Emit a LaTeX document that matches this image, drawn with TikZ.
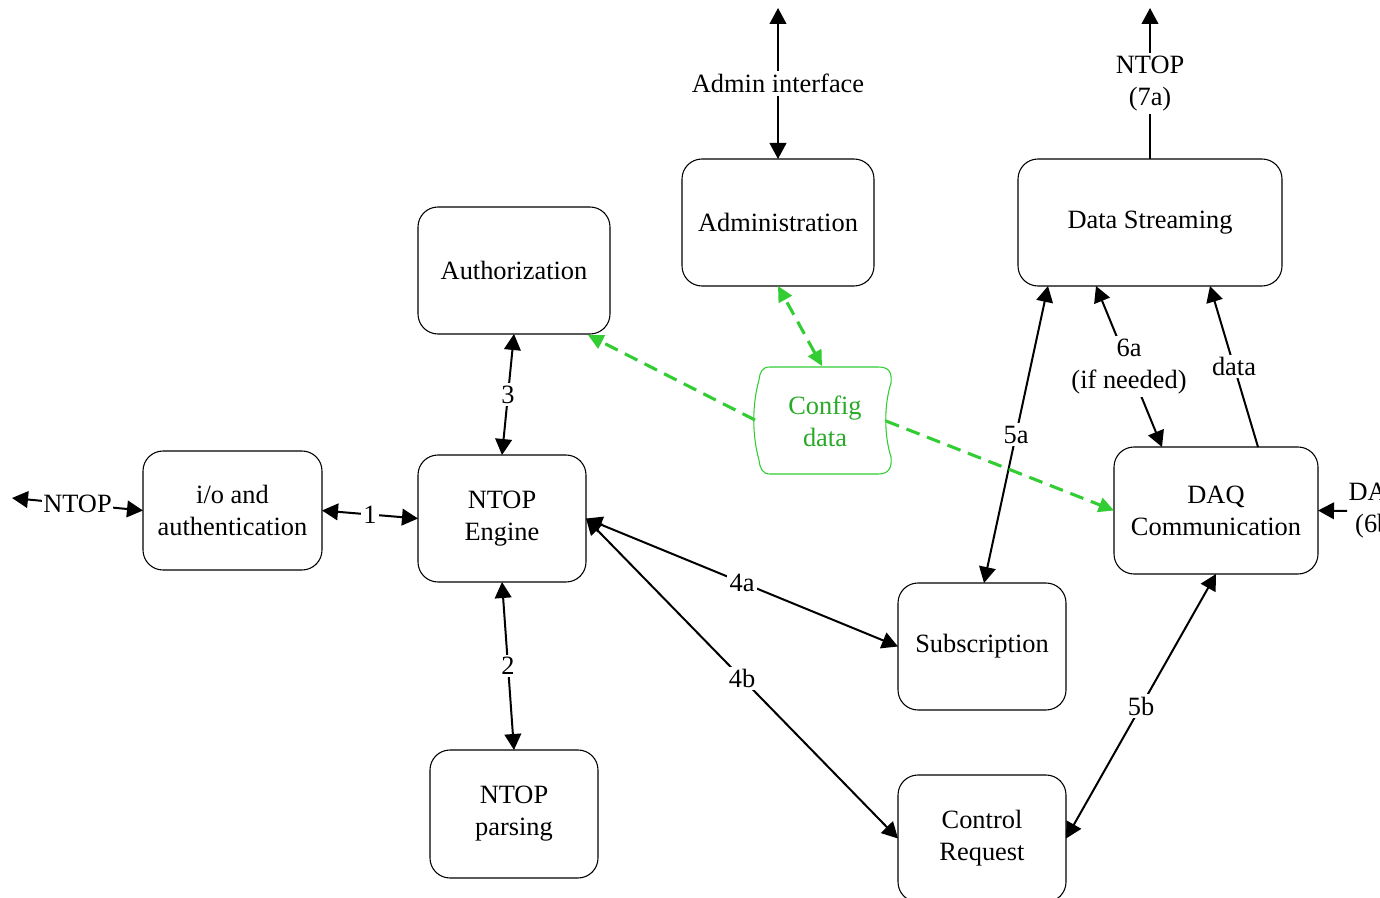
\documentclass[tikz,border=0pt]{standalone}
\usepackage{fontspec}
\setmainfont{Liberation Serif}
\usetikzlibrary{arrows.meta,calc}
\definecolor{cfggreen}{RGB}{50,205,50}
\definecolor{cfgtext}{RGB}{40,170,40}
\tikzset{gtip/.tip={Triangle[length=11.5pt,width=11pt]},
  btip/.tip={Triangle[length=12pt,width=12.5pt]}}
\begin{document}
\begin{tikzpicture}[x=0.75pt,y=-0.75pt,
  font=\fontsize{19.8}{24}\selectfont,
  box/.style={draw, line width=0.8pt, rounded corners=15pt, inner sep=0pt, outer sep=0pt, align=center},
  conn/.style={line width=1.5pt, {btip}-{btip}},
  oneway/.style={line width=1.5pt, -{btip}},
  lbl/.style={fill=white, inner sep=2pt, align=center},
  gdash/.style={draw=cfggreen, line width=2.3pt, dash pattern=on 10.5pt off 6pt}
]
\useasboundingbox (0,0) rectangle (1380,898);
\clip (0,0) rectangle (1380,898);
\fill[white] (0,0) rectangle (1380,898);

% boxes
\node[box, minimum width=134.25pt, minimum height=89.25pt] (io) at (232.5,510.5) {i/o and\\authentication};
\node[box, minimum width=126pt, minimum height=95.25pt] (eng) at (502,518.5) {NTOP\\Engine};
\node[box, minimum width=144pt, minimum height=95.25pt] (auth) at (514,270.5) {Authorization};
\node[box, minimum width=126pt, minimum height=96pt] (pars) at (514,814) {NTOP\\parsing};
\node[box, minimum width=144pt, minimum height=95.25pt] (admin) at (778,222.5) {Administration};
\node[box, minimum width=198pt, minimum height=95.25pt] (ds) at (1150,222.5) {Data Streaming};
\node[box, minimum width=153pt, minimum height=95.25pt] (daq) at (1216,510.5) {DAQ\\Communication};
\node[box, minimum width=126pt, minimum height=95.25pt] (sub) at (982,646.5) {Subscription};
\node[box, minimum width=126pt, minimum height=95.25pt] (ctrl) at (982,838.5) {Control\\Request};

% config data shape
\node[text=cfgtext, align=center] (cfg) at (825,421) {Config\\data};
\draw[cfggreen, line width=0.8pt] (770,367) -- (878,367)
  .. controls (889,367) and (892,372) .. (891,383)
  .. controls (884,405) and (884,435) .. (891,457)
  .. controls (892,468) and (889,474) .. (878,474)
  -- (770,474)
  .. controls (762,474) and (760,468) .. (759,460)
  .. controls (752,435) and (752,405) .. (759,380)
  .. controls (760,372) and (762,367) .. (770,367) -- cycle;
\coordinate (cfgN) at (822,366);
\coordinate (cfgW) at (755,420);
\coordinate (cfgE) at (886,421);

% outer coordinates
\coordinate (ntopL) at (12,498);
\coordinate (adminTop) at (778,8);
\coordinate (dsTop) at (1150,8);
\node[lbl, anchor=west, inner sep=1pt] (daql) at (1347,511) {DAQ\\(6b)};

% connectors
\draw[conn] (ntopL) -- node[lbl, inner sep=1pt] {NTOP} (io.west);
\draw[conn] (io.east) -- node[lbl] {1} (eng.west);
\draw[conn] (auth.south) -- node[lbl] {3} (eng.north);
\draw[conn] (eng.south) -- node[lbl] {2} (pars.north);
\draw[conn] (eng.east) -- node[lbl] {4a} (sub.west);
\draw[conn] (eng.east) -- node[lbl] {4b} (ctrl.west);
\draw[conn] (admin.north) -- node[lbl] {Admin interface} (adminTop);
\draw[oneway] (ds.north) -- node[lbl] {NTOP\\(7a)} (dsTop);
\draw[conn] ($(ds.south west)+(30,0)$) -- node[lbl] {5a} ($(sub.north)+(2,0)$);
\draw[conn] ($(ds.south west)+(78,0)$) -- node[lbl] {6a\\(if needed)} ($(daq.north west)+(48,0)$);
\draw[oneway] ($(daq.north west)+(144,0)$) -- node[lbl] {data} ($(ds.south west)+(192,0)$);
\draw[conn] (daq.south) -- node[lbl] {5b} (ctrl.east);
\draw[oneway] (daql.west) -- (daq.east);

% green dashed connectors
\draw[gdash, {gtip}-{gtip}] (cfgN) -- (admin.south);
\draw[gdash, -{gtip}] (cfgW) -- ($(auth.south east)+(-22,1)$);
\draw[gdash, -{gtip}] (cfgE) -- (daq.west);
\end{tikzpicture}
\end{document}
